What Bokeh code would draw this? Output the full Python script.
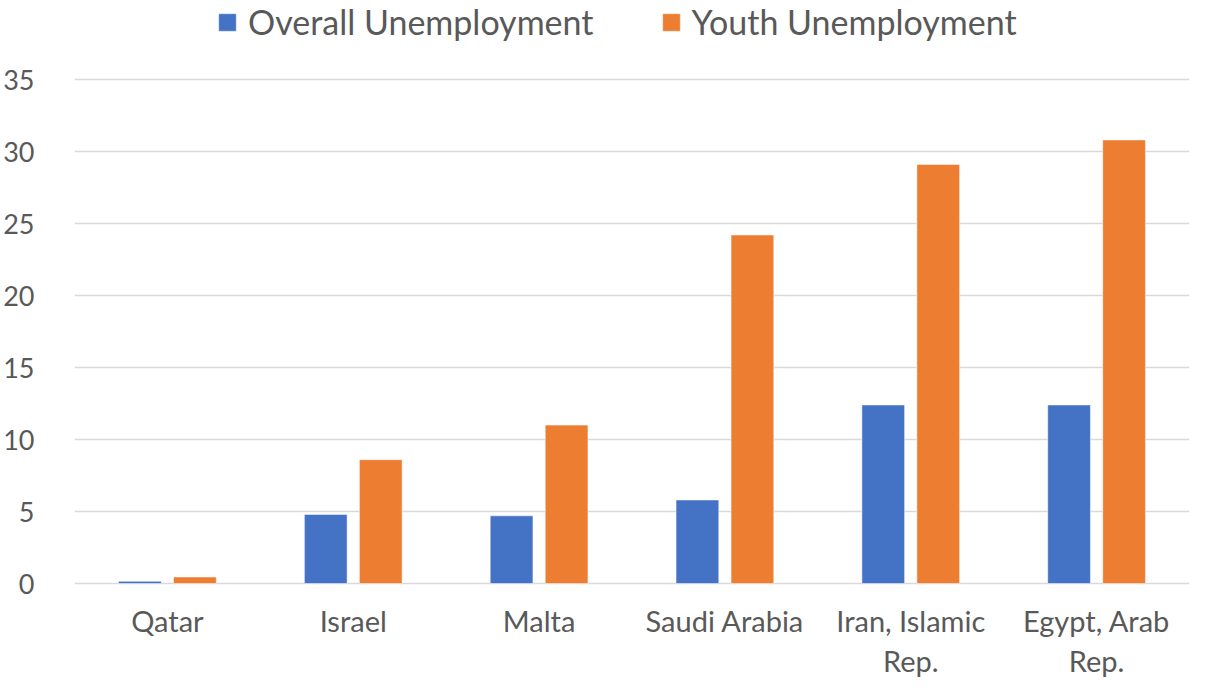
from bokeh.plotting import figure
from bokeh.models import ColumnDataSource, FactorRange, Range1d, Legend, LegendItem, FixedTicker
from bokeh.transform import dodge
from bokeh.core.properties import value
from bokeh.embed import file_html
from bokeh.resources import INLINE

countries = ["Qatar", "Israel", "Malta", "Saudi Arabia", "Iran, Islamic Rep.", "Egypt, Arab Rep."]
overall = [0.15, 4.8, 4.7, 5.8, 12.4, 12.4]
youth = [0.45, 8.6, 11.0, 24.2, 29.1, 30.8]
labels = ["Qatar", "Israel", "Malta", "Saudi Arabia", "Iran, Islamic\nRep.", "Egypt, Arab\nRep."]
y_ticks = [0, 5, 10, 15, 20, 25, 30, 35]

src = ColumnDataSource(dict(c=countries, o=overall, y=youth))

FONT = "Lato"
GREY = "#595959"

W, H = 1191, 680
zero_px, top_px = 583, 79          # pixel rows (from top) of 0 and 35
ppu = (zero_px - top_px) / 35.0
y_start = -(H - zero_px) / ppu
y_end = 35 + top_px / ppu

p = figure(x_range=FactorRange(*countries, range_padding=0), y_range=Range1d(y_start, y_end),
           width=W, height=H, output_backend="svg", toolbar_location=None,
           min_border_left=68, min_border_right=2, min_border_top=0, min_border_bottom=0)
p.outline_line_color = None
p.xaxis.visible = False

b1 = p.vbar(x=dodge("c", -0.148, range=p.x_range), top="o", width=0.23, source=src,
            fill_color="#4472C4", line_color="#ffffff", line_alpha=0.5, line_width=1)
b2 = p.vbar(x=dodge("c", 0.148, range=p.x_range), top="y", width=0.23, source=src,
            fill_color="#ED7D31", line_color="#ffffff", line_alpha=0.5, line_width=1)

p.xgrid.grid_line_color = None
p.ygrid.grid_line_color = "#d9d9d9"
p.ygrid.grid_line_width = 1.5
p.yaxis.ticker = FixedTicker(ticks=y_ticks)
p.yaxis.axis_line_color = None
p.yaxis.major_tick_line_color = None
p.yaxis.minor_tick_line_color = None
p.yaxis.major_label_standoff = 34
p.yaxis.major_label_text_font = FONT
p.yaxis.major_label_text_font_size = "27px"
p.yaxis.major_label_text_color = GREY

label_y = -19 / ppu
p.text(x=countries, y=[label_y] * len(countries), text=labels,
       text_font=value(FONT), text_font_size="29px", text_color=GREY,
       text_align="center", text_baseline="top", text_line_height=1.15)

legend = Legend(items=[LegendItem(label="Overall Unemployment", renderers=[b1]),
                       LegendItem(label="Youth Unemployment", renderers=[b2])],
                orientation="horizontal", location=(142, H - 42),
                label_text_font=FONT, label_text_font_size="34px", label_text_color=GREY,
                glyph_width=22, glyph_height=22, spacing=66, label_standoff=10,
                border_line_color=None, background_fill_alpha=0, padding=0, margin=0)
p.add_layout(legend, "center")

open("out.html", "w").write(file_html(p, INLINE))
